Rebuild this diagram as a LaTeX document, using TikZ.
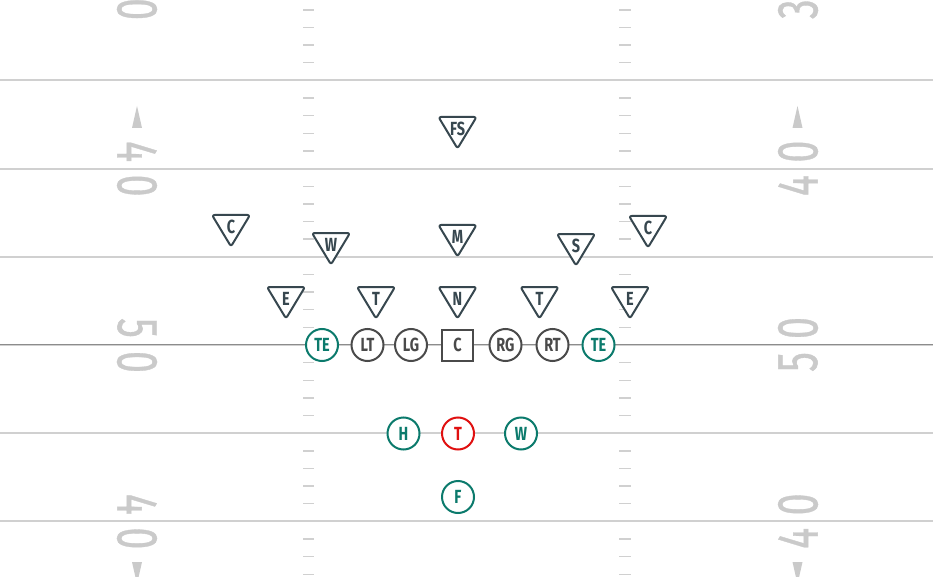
\documentclass[tikz,border=0pt]{standalone}
\usepackage{fontspec}
\setmainfont{Fira Sans}
\newfontface\numfont[FakeBold=0.8]{Fira Sans}
\usetikzlibrary{calc}
\definecolor{numgrey}{HTML}{CACACA}
\definecolor{yardgrey}{HTML}{D0D0D0}
\definecolor{losgrey}{HTML}{8C8C8C}
\definecolor{defc}{HTML}{37474F}
\definecolor{teal}{HTML}{0B7A6C}
\definecolor{olc}{HTML}{4A4A4A}
\definecolor{redc}{HTML}{E01010}
\newcommand\cnd[1]{\scalebox{0.76}[1]{#1}}
\newcommand\yd[4]{\node[yardnum,rotate=#4] (#1) at (#2) {\scalebox{0.68}[1]{#3}};}
\tikzset{
  yard/.style={draw=yardgrey, line width=2pt},
  hashm/.style={draw=yardgrey, line width=1.4pt},
  yardnum/.style={text=numgrey, font=\numfont\fontsize{58}{60}\selectfont, inner sep=0pt},
  lbl/.style={font=\fontsize{19}{20}\selectfont\bfseries, inner sep=0pt},
  dtri/.style={draw=defc, line width=2pt, fill=white, rounded corners=2.5pt, line join=round},
  dtext/.style={lbl, text=defc},
  plr/.style={lbl, circle, draw, line width=2pt, fill=white, minimum size=32pt},
  te/.style={plr, draw=teal, text=teal},
  ol/.style={plr, draw=olc, text=olc},
  qb/.style={plr, draw=redc, text=redc},
  ctr/.style={lbl, rectangle, draw=olc, text=olc, line width=2pt, fill=white, minimum size=31pt}
}
\newcommand\dplayer[4]{%
  \draw[dtri, shift={(#2,#3)}] (-19,-12) -- (19,-12) -- (0,19.5) -- cycle;
  \node[dtext] (#1) at (#2,#3) {\cnd{#4}};}
\begin{document}
\begin{tikzpicture}[x=1pt,y=-1pt]
\useasboundingbox (0,0) rectangle (933,577);
\begin{scope}
\clip (0,0) rectangle (933,577);
\fill[white] (0,0) rectangle (933,577);
% yard lines
\foreach \j in {-4,...,2}
  \draw[yard] (0,{345+88.2*\j}) -- (933,{345+88.2*\j});
% line of scrimmage
\draw[draw=losgrey, line width=1.2pt] (0,344.4) -- (933,344.4);
% hash marks
\foreach \j in {-4,...,2}
  \foreach \k in {1,2,3,4} {
    \draw[hashm] (303,{345+88.2*\j+17.64*\k}) -- (314,{345+88.2*\j+17.64*\k});
    \draw[hashm] (619,{345+88.2*\j+17.64*\k}) -- (631,{345+88.2*\j+17.64*\k});
  }
% yard numbers, left side
\yd{l3a}{137,-24.8}{3}{-90}
\yd{l3b}{137,9.2}{0}{-90}
\yd{l4a}{137,151.6}{4}{-90}
\yd{l4b}{137,185.6}{0}{-90}
\yd{l5a}{137,328}{5}{-90}
\yd{l5b}{137,362}{0}{-90}
\yd{l6a}{137,504.4}{4}{-90}
\yd{l6b}{137,538.4}{0}{-90}
% yard numbers, right side
\yd{r3a}{798,9.2}{3}{90}
\yd{r3b}{798,-24.8}{0}{90}
\yd{r4a}{798,185.6}{4}{90}
\yd{r4b}{798,151.6}{0}{90}
\yd{r5a}{798,362}{5}{90}
\yd{r5b}{798,328}{0}{90}
\yd{r6a}{798,538.4}{4}{90}
\yd{r6b}{798,504.4}{0}{90}
% direction arrows
\fill[numgrey] (132,128) -- (142,128) -- (137,106) -- cycle;
\fill[numgrey] (792.5,128) -- (802.5,128) -- (797.5,106) -- cycle;
\fill[numgrey] (132,562) -- (142,562) -- (137,584) -- cycle;
\fill[numgrey] (792.5,562) -- (802.5,562) -- (797.5,584) -- cycle;
\end{scope}
% defense
\dplayer{fs}{457.5}{129}{FS}
\dplayer{m}{457.5}{237}{M}
\dplayer{n}{457.5}{299}{N}
\dplayer{tr}{539.5}{299}{T}
\dplayer{s}{576}{246}{S}
\dplayer{cr}{648}{228}{C}
\dplayer{er}{630}{299}{E}
\dplayer{cl}{231}{227}{C}
\dplayer{w}{331}{245}{W}
\dplayer{el}{286}{299}{E}
\dplayer{tl}{376}{299}{T}
% offense line
\node[te] (te1) at (322,345) {\cnd{TE}};
\node[ol] (lt) at (367.5,345) {\cnd{LT}};
\node[ol] (lg) at (411,345) {\cnd{LG}};
\node[ctr] (c) at (457.5,345) {\cnd{C}};
\node[ol] (rg) at (505.5,345) {\cnd{RG}};
\node[ol] (rt) at (552.5,345) {\cnd{RT}};
\node[te] (te2) at (598.5,345) {\cnd{TE}};
% backfield
\node[te] (h) at (403.5,433.5) {\cnd{H}};
\node[qb] (t) at (458,433.5) {\cnd{T}};
\node[te] (wb) at (521,433.5) {\cnd{W}};
\node[te] (f) at (458,497) {\cnd{F}};
\end{tikzpicture}
\end{document}
